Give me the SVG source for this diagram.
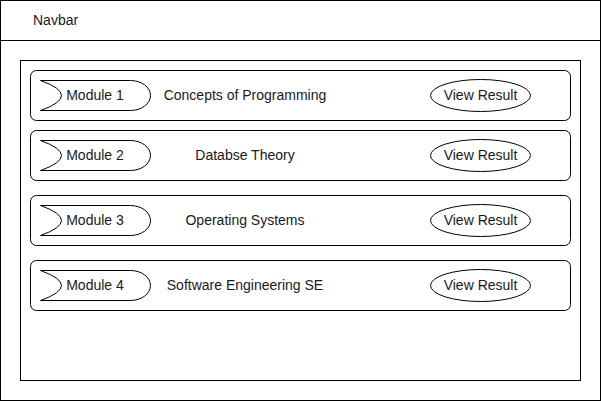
<svg xmlns="http://www.w3.org/2000/svg" width="601" height="401" viewBox="0 0 601 401">
  <style>
    .frame { fill: #fff; stroke: #000; stroke-width: 1; }
    .row { fill: #fff; stroke: #000; stroke-width: 1; }
    .tag { fill: #fff; stroke: #000; stroke-width: 1; }
    .btn { fill: #fff; stroke: #000; stroke-width: 1; }
    text { font-family: "Liberation Sans", Arial, sans-serif; font-size: 14px; fill: #1a1a1a; }
    .c { text-anchor: middle; dominant-baseline: central; }
  </style>
  <defs>
    <!-- step shape: concave left side, convex right side -->
    <path id="step" d="M0,0 L90,0 A20,15 0 0 1 90,30 L0,30 Q42,15 0,0 Z"/>
  </defs>

  <g id="page">
    <rect class="frame" x="0.5" y="0.5" width="600" height="400"/>
    <line x1="0.5" y1="40.5" x2="600.5" y2="40.5" stroke="#000"/>
    <text x="33" y="19.5" dominant-baseline="central">Navbar</text>
  </g>

  <g id="content">
    <rect class="frame" x="20.5" y="60.5" width="560" height="320"/>
  </g>

  <g id="module1">
    <rect class="row" x="30.5" y="70.5" width="540" height="50" rx="6"/>
    <use href="#step" class="tag" x="40.5" y="80.5"/>
    <text class="c" x="95" y="95">Module 1</text>
    <text class="c" x="245" y="95">Concepts of Programming</text>
    <ellipse class="btn" cx="480.5" cy="95.5" rx="50" ry="16"/>
    <text class="c" x="480.5" y="95">View Result</text>
  </g>

  <g id="module2">
    <rect class="row" x="30.5" y="130.5" width="540" height="50" rx="6"/>
    <use href="#step" class="tag" x="40.5" y="140.5"/>
    <text class="c" x="95" y="155">Module 2</text>
    <text class="c" x="245" y="155">Databse Theory</text>
    <ellipse class="btn" cx="480.5" cy="155.5" rx="50" ry="16"/>
    <text class="c" x="480.5" y="155">View Result</text>
  </g>

  <g id="module3">
    <rect class="row" x="30.5" y="195.5" width="540" height="50" rx="6"/>
    <use href="#step" class="tag" x="40.5" y="205.5"/>
    <text class="c" x="95" y="220">Module 3</text>
    <text class="c" x="245" y="220">Operating Systems</text>
    <ellipse class="btn" cx="480.5" cy="220.5" rx="50" ry="16"/>
    <text class="c" x="480.5" y="220">View Result</text>
  </g>

  <g id="module4">
    <rect class="row" x="30.5" y="260.5" width="540" height="50" rx="6"/>
    <use href="#step" class="tag" x="40.5" y="270.5"/>
    <text class="c" x="95" y="285">Module 4</text>
    <text class="c" x="245" y="285">Software Engineering SE</text>
    <ellipse class="btn" cx="480.5" cy="285.5" rx="50" ry="16"/>
    <text class="c" x="480.5" y="285">View Result</text>
  </g>

  <g id="connectors"/>
</svg>
